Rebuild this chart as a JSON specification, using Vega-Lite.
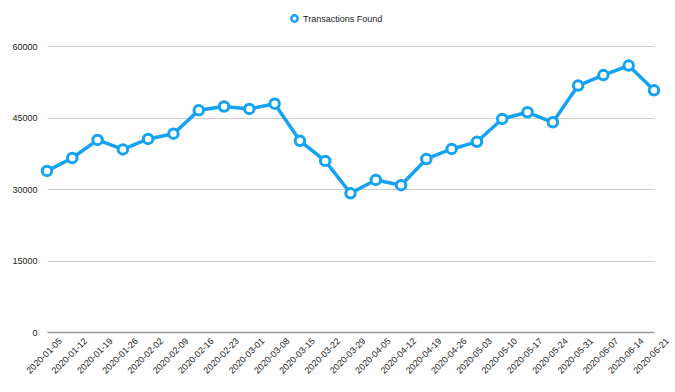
{
  "$schema": "https://vega.github.io/schema/vega-lite/v6.json",
  "width": 607,
  "height": 286,
  "autosize": {"type": "none"},
  "padding": {"left": 47, "top": 46, "right": 21, "bottom": 60},
  "background": "white",
  "config": {
    "view": {"stroke": null},
    "font": "Liberation Sans",
    "axis": {"labelFont": "Liberation Sans", "labelColor": "#222222", "labelFontSize": 9}
  },
  "data": {
    "values": [
      {"date": "2020-01-05", "value": 33800},
      {"date": "2020-01-12", "value": 36500},
      {"date": "2020-01-19", "value": 40300},
      {"date": "2020-01-26", "value": 38300},
      {"date": "2020-02-02", "value": 40500},
      {"date": "2020-02-09", "value": 41600},
      {"date": "2020-02-16", "value": 46500},
      {"date": "2020-02-23", "value": 47300},
      {"date": "2020-03-01", "value": 46800},
      {"date": "2020-03-08", "value": 47900},
      {"date": "2020-03-15", "value": 40100},
      {"date": "2020-03-22", "value": 35900},
      {"date": "2020-03-29", "value": 29100},
      {"date": "2020-04-05", "value": 31900},
      {"date": "2020-04-12", "value": 30800},
      {"date": "2020-04-19", "value": 36300},
      {"date": "2020-04-26", "value": 38400},
      {"date": "2020-05-03", "value": 39900},
      {"date": "2020-05-10", "value": 44700},
      {"date": "2020-05-17", "value": 46100},
      {"date": "2020-05-24", "value": 44000},
      {"date": "2020-05-31", "value": 51700},
      {"date": "2020-06-07", "value": 53900},
      {"date": "2020-06-14", "value": 55900},
      {"date": "2020-06-21", "value": 50700}
    ]
  },
  "encoding": {
    "x": {
      "field": "date",
      "type": "ordinal",
      "sort": null,
      "scale": {"type": "point", "padding": 0},
      "axis": {
        "title": null,
        "labelAngle": -45,
        "labelAlign": "right",
        "labelBaseline": "middle",
        "ticks": false,
        "labelPadding": 7,
        "labelOffset": 13,
        "domainColor": "#999999",
        "domainWidth": 1.5,
        "grid": false
      }
    },
    "y": {
      "field": "value",
      "type": "quantitative",
      "scale": {"domain": [0, 60000], "nice": false},
      "axis": {
        "title": null,
        "values": [0, 15000, 30000, 45000, 60000],
        "format": "d",
        "domain": false,
        "ticks": false,
        "labelPadding": 10,
        "gridColor": "#cccccc",
        "gridWidth": 1
      }
    }
  },
  "layer": [
    {
      "mark": {"type": "line", "strokeWidth": 3.5, "strokeJoin": "round"},
      "encoding": {
        "color": {
          "datum": "Transactions Found",
          "scale": {"range": ["#14A2F5"]},
          "legend": {
            "title": null,
            "orient": "none",
            "legendX": 243,
            "legendY": -32,
            "symbolType": "circle",
            "symbolFillColor": "white",
            "symbolStrokeWidth": 2.5,
            "symbolSize": 40,
            "labelFontSize": 9,
            "labelColor": "#222222",
            "labelFont": "Liberation Sans"
          }
        }
      }
    },
    {
      "mark": {"type": "point", "filled": true, "fill": "white", "stroke": "#14A2F5", "strokeWidth": 3, "size": 90, "opacity": 1}
    }
  ]
}
